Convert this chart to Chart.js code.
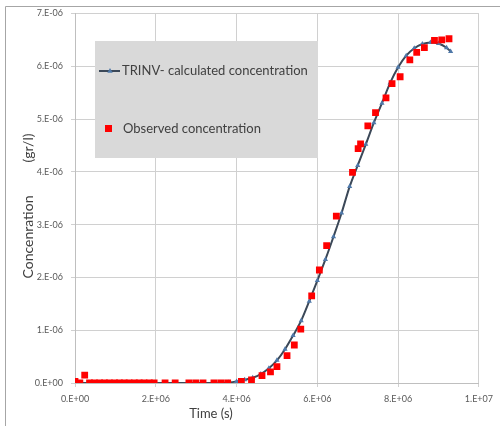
<!DOCTYPE html>
<html>
<head>
<meta charset="utf-8">
<script src="https://cdn.jsdelivr.net/npm/chart.js@4.4.0/dist/chart.umd.min.js"></script>
<style>
  html, body { margin: 0; padding: 0; background: #fff; }
  #wrap { width: 500px; height: 426px; }
</style>
</head>
<body>
<div id="wrap"><canvas id="conc-chart" width="500" height="426"></canvas></div>
<script>
// ====== DATA (time in s, concentration in gr/l) ======
const calcTime = [0, 0.5e6, 1.0e6, 1.5e6, 2.0e6, 2.5e6, 3.0e6, 3.5e6, 3.8e6, 4.0e6, 4.2e6, 4.4e6,
    4.6e6, 4.8e6, 5.0e6, 5.2e6, 5.4e6, 5.6e6, 5.8e6, 6.0e6, 6.2e6, 6.4e6, 6.6e6, 6.8e6,
    7.0e6, 7.2e6, 7.4e6, 7.6e6, 7.8e6, 8.0e6, 8.2e6, 8.4e6, 8.6e6, 8.8e6, 9.0e6, 9.2e6, 9.3e6];
const calcConc = [0, 0, 0, 0, 0, 0, 0, 0, 0.01e-6, 0.03e-6, 0.06e-6, 0.10e-6,
    0.17e-6, 0.28e-6, 0.43e-6, 0.64e-6, 0.90e-6, 1.18e-6, 1.55e-6, 1.94e-6, 2.34e-6, 2.77e-6, 3.22e-6, 3.72e-6,
    4.12e-6, 4.52e-6, 4.93e-6, 5.30e-6, 5.68e-6, 5.98e-6, 6.20e-6, 6.34e-6, 6.42e-6, 6.45e-6, 6.43e-6, 6.35e-6, 6.28e-6];

const obsTime = [0, 0.12e6, 0.24e6, 0.36e6, 0.48e6, 0.61e6, 0.73e6, 0.85e6, 0.98e6, 1.10e6, 1.22e6,
    1.34e6, 1.47e6, 1.59e6, 1.71e6, 1.84e6, 1.96e6, 2.23e6, 2.48e6, 2.82e6, 2.99e6, 3.17e6, 3.44e6,
    3.61e6, 3.78e6, 4.12e6, 4.37e6, 4.63e6, 4.84e6, 5.00e6, 5.25e6, 5.43e6, 5.59e6, 5.86e6, 6.05e6,
    6.23e6, 6.47e6, 6.87e6, 7.01e6, 7.07e6, 7.25e6, 7.44e6, 7.70e6, 7.85e6, 8.05e6, 8.29e6, 8.46e6,
    8.65e6, 8.90e6, 9.08e6, 9.26e6];
const obsConc = [0.03e-6, 0, 0.15e-6, 0, 0, 0, 0, 0, 0, 0, 0,
    0, 0, 0, 0, 0, 0, 0, 0, 0, 0, 0, 0,
    0, 0, 0.03e-6, 0.06e-6, 0.14e-6, 0.21e-6, 0.31e-6, 0.52e-6, 0.72e-6, 1.02e-6, 1.65e-6, 2.14e-6,
    2.60e-6, 3.16e-6, 3.99e-6, 4.44e-6, 4.53e-6, 4.87e-6, 5.12e-6, 5.40e-6, 5.67e-6, 5.80e-6, 6.12e-6, 6.26e-6,
    6.35e-6, 6.49e-6, 6.50e-6, 6.52e-6];

const xTickValues = [0, 2e6, 4e6, 6e6, 8e6, 1e7];
const xTickLabels = ['0.E+00', '2.E+06', '4.E+06', '6.E+06', '8.E+06', '1.E+07'];
const yTickValues = [0, 1e-6, 2e-6, 3e-6, 4e-6, 5e-6, 6e-6, 7e-6];
const yTickLabels = ['0.E+00', '1.E-06', '2.E-06', '3.E-06', '4.E-06', '5.E-06', '6.E-06', '7.E-06'];

const calcLabel = 'TRINV- calculated concentration';
const obsLabel = 'Observed concentration';

const FONT = 'Lato, "Open Sans", sans-serif';
const lineColor = '#3b4858';
const triColor = '#4f78a8';
const squareColor = '#ff0000';
const textColor = '#404040';

function drawTriangle(ctx, x, y, r) {
    ctx.beginPath();
    ctx.moveTo(x, y - r);
    ctx.lineTo(x + r * 0.9, y + r * 0.6);
    ctx.lineTo(x - r * 0.9, y + r * 0.6);
    ctx.closePath();
    ctx.fill();
}

// ====== frame, axis titles and legend box ======
const extrasPlugin = {
    id: 'extras',
    afterDraw(chart) {
        const ctx = chart.ctx;
        ctx.save();

        // outer frame (left + top)
        ctx.strokeStyle = '#a6a6a6';
        ctx.lineWidth = 1;
        ctx.beginPath();
        ctx.moveTo(5.5, 430);
        ctx.lineTo(5.5, 6.5);
        ctx.lineTo(500, 6.5);
        ctx.stroke();

        // axis titles
        ctx.fillStyle = textColor;
        ctx.font = '13px ' + FONT;
        ctx.textAlign = 'center';
        ctx.textBaseline = 'middle';
        ctx.fillText('Time (s)', 211, 414);

        ctx.save();
        ctx.translate(28, 0);
        ctx.rotate(-Math.PI / 2);
        ctx.font = '14px ' + FONT;
        ctx.fillText('Concenration', -237, 0);
        ctx.fillText('(gr/l)', -148, 0);
        ctx.restore();

        // legend box
        ctx.fillStyle = '#d9d9d9';
        ctx.fillRect(95, 41, 223, 117);

        ctx.strokeStyle = lineColor;
        ctx.lineWidth = 2;
        ctx.beginPath();
        ctx.moveTo(99, 71);
        ctx.lineTo(120, 71);
        ctx.stroke();
        ctx.fillStyle = triColor;
        drawTriangle(ctx, 110, 71, 3);

        ctx.fillStyle = squareColor;
        ctx.fillRect(105, 125, 7, 7);

        ctx.fillStyle = textColor;
        ctx.font = '13px ' + FONT;
        ctx.textAlign = 'left';
        ctx.fillText(calcLabel, 122, 71);
        ctx.fillText(obsLabel, 123, 129);

        ctx.restore();
    }
};

const ctx = document.getElementById('conc-chart');
new Chart(ctx, {
    type: 'scatter',
    data: {
        datasets: [
            {
                label: calcLabel,
                data: calcTime.map((t, i) => ({ x: t, y: calcConc[i] })),
                showLine: true,
                borderColor: lineColor,
                borderWidth: 2,
                cubicInterpolationMode: 'monotone',
                pointStyle: 'triangle',
                pointRadius: 3,
                pointBackgroundColor: triColor,
                pointBorderColor: triColor,
                pointBorderWidth: 0,
                order: 1
            },
            {
                label: obsLabel,
                data: obsTime.map((t, i) => ({ x: t, y: obsConc[i] })),
                showLine: false,
                pointStyle: 'rect',
                pointRadius: 4.8,
                pointBackgroundColor: squareColor,
                pointBorderWidth: 0,
                order: 0
            }
        ]
    },
    options: {
        responsive: false,
        animation: false,
        layout: { padding: { left: 0, top: 13, right: 18, bottom: 0 } },
        plugins: {
            legend: { display: false },
            tooltip: { enabled: false }
        },
        scales: {
            x: {
                type: 'linear',
                min: 0,
                max: 1e7,
                afterBuildTicks: axis => { axis.ticks = xTickValues.map(v => ({ value: v })); },
                afterFit: scale => { scale.height = 43; },
                ticks: {
                    callback: (v, i) => xTickLabels[i],
                    color: '#595959',
                    font: { family: FONT, size: 9 },
                    padding: 7,
                    maxRotation: 0
                },
                grid: { color: '#d0d0d0', tickLength: 4 },
                border: { color: '#bfbfbf' }
            },
            y: {
                type: 'linear',
                min: 0,
                max: 7e-6,
                afterBuildTicks: axis => { axis.ticks = yTickValues.map(v => ({ value: v })); },
                afterFit: scale => { scale.width = 75; },
                ticks: {
                    callback: (v, i) => yTickLabels[i],
                    color: '#595959',
                    font: { family: FONT, size: 9 },
                    padding: 8
                },
                grid: { color: '#d0d0d0', tickLength: 4 },
                border: { color: '#bfbfbf' }
            }
        }
    },
    plugins: [extrasPlugin]
});
</script>
</body>
</html>
